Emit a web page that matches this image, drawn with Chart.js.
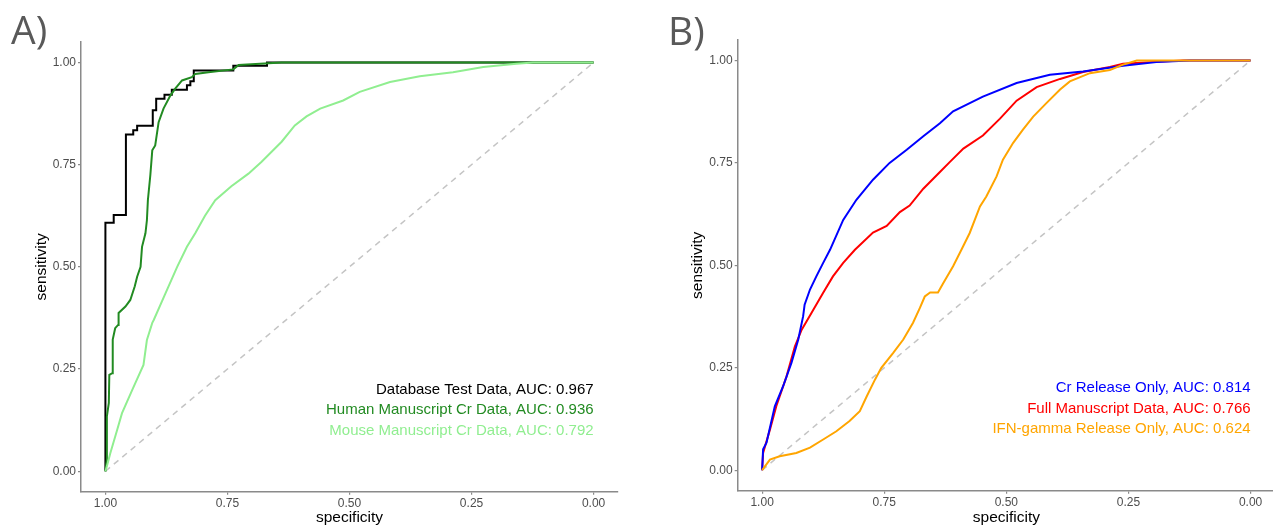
<!DOCTYPE html>
<html>
<head>
<meta charset="utf-8">
<script src="https://cdn.jsdelivr.net/npm/chart.js@4.4.1/dist/chart.umd.min.js"></script>
<style>
  html, body { margin: 0; padding: 0; background: #fff; overflow: hidden; }
  #page { position: relative; width: 1273px; height: 527px; overflow: hidden; }
  .panel { position: absolute; top: 0; }
  .tag { position: absolute; font-family: 'Open Sans', sans-serif; font-size: 39px; color: #595959; line-height: 1; }
</style>
</head>
<body>
<div id="page">
  <canvas id="roc-a" class="panel" width="640" height="527" style="left:0"></canvas>
  <canvas id="roc-b" class="panel" width="640" height="527" style="left:640px"></canvas>
  <div class="tag" style="left:11px; top:9px">A)</div>
  <div class="tag" style="left:668px; top:10px">B)</div>
</div>
<script>
const specTicks = [0, 0.25, 0.5, 0.75, 1];
const sensTicks = [0, 0.25, 0.5, 0.75, 1];
const legendY = [0.2, 0.15, 0.1];
const chanceLine = [[1, 0], [0, 1]];

// Panel A: [specificity, sensitivity]
const dbTestRoc = [
    [1, 0], [1, 0.608], [0.983, 0.608], [0.983, 0.627], [0.958, 0.627], [0.958, 0.824],
    [0.943, 0.824], [0.943, 0.834], [0.935, 0.834], [0.935, 0.845], [0.903, 0.845],
    [0.903, 0.883], [0.896, 0.883], [0.896, 0.911], [0.879, 0.911], [0.879, 0.921],
    [0.864, 0.921], [0.864, 0.933], [0.833, 0.933], [0.833, 0.944], [0.826, 0.944],
    [0.826, 0.954], [0.819, 0.954], [0.819, 0.980], [0.738, 0.980], [0.738, 0.992],
    [0.669, 0.992], [0.669, 1], [0, 1]
];
const humanCrRoc = [
    [1, 0], [0.997, 0.029], [0.997, 0.134], [0.993, 0.167], [0.992, 0.236], [0.986, 0.240],
    [0.985, 0.322], [0.980, 0.350], [0.974, 0.358], [0.973, 0.387], [0.959, 0.403],
    [0.949, 0.419], [0.940, 0.452], [0.935, 0.476], [0.928, 0.500], [0.925, 0.549],
    [0.918, 0.582], [0.915, 0.614], [0.913, 0.663], [0.908, 0.724], [0.904, 0.785],
    [0.898, 0.797], [0.891, 0.854], [0.881, 0.887], [0.867, 0.919], [0.857, 0.936],
    [0.843, 0.956], [0.823, 0.964], [0.816, 0.972], [0.789, 0.976], [0.738, 0.983],
    [0.727, 0.994], [0.639, 1], [0, 1]
];
const mouseCrRoc = [
    [1, 0], [0.997, 0.012], [0.990, 0.044], [0.976, 0.101], [0.966, 0.142], [0.945, 0.199],
    [0.922, 0.260], [0.915, 0.321], [0.904, 0.363], [0.901, 0.370], [0.877, 0.435],
    [0.853, 0.500], [0.833, 0.549], [0.816, 0.582], [0.796, 0.625], [0.775, 0.663],
    [0.742, 0.697], [0.707, 0.728], [0.680, 0.757], [0.659, 0.782], [0.639, 0.806],
    [0.612, 0.846], [0.588, 0.868], [0.560, 0.887], [0.513, 0.907], [0.479, 0.928],
    [0.417, 0.952], [0.356, 0.966], [0.288, 0.976], [0.226, 0.989], [0.158, 0.997],
    [0.124, 1], [0, 1]
];
const panelANames = ['Database Test Data', 'Human Manuscript Cr Data', 'Mouse Manuscript Cr Data'];
const panelAAuc = [0.967, 0.936, 0.792];
const panelAColors = ['#000000', '#228B22', '#90EE90'];
const panelAStack = [2, 1, 0];   // lower draws on top

// Panel B
const crOnlyRoc = [
    [1, 0], [0.998, 0.051], [0.991, 0.067], [0.974, 0.156], [0.957, 0.205], [0.940, 0.262],
    [0.926, 0.319], [0.916, 0.376], [0.913, 0.404], [0.902, 0.441], [0.889, 0.473],
    [0.875, 0.506], [0.861, 0.538], [0.834, 0.611], [0.807, 0.660], [0.773, 0.709],
    [0.739, 0.750], [0.704, 0.782], [0.670, 0.815], [0.636, 0.847], [0.609, 0.876],
    [0.548, 0.912], [0.479, 0.945], [0.411, 0.965], [0.343, 0.973], [0.261, 0.987],
    [0.193, 0.996], [0.124, 1], [0, 1]
];
const fullRoc = [
    [1, 0], [0.998, 0.042], [0.984, 0.099], [0.971, 0.156], [0.950, 0.229], [0.933, 0.302],
    [0.919, 0.343], [0.899, 0.384], [0.875, 0.433], [0.855, 0.473], [0.834, 0.506],
    [0.810, 0.538], [0.773, 0.580], [0.745, 0.596], [0.718, 0.630], [0.698, 0.646],
    [0.670, 0.687], [0.636, 0.728], [0.616, 0.752], [0.588, 0.785], [0.548, 0.817],
    [0.513, 0.858], [0.479, 0.902], [0.438, 0.935], [0.390, 0.955], [0.343, 0.972],
    [0.288, 0.984], [0.261, 0.992], [0.206, 0.996], [0.138, 1], [0, 1]
];
const ifnOnlyRoc = [
    [1, 0], [0.984, 0.026], [0.964, 0.034], [0.930, 0.042], [0.902, 0.055], [0.875, 0.075],
    [0.848, 0.095], [0.821, 0.120], [0.800, 0.144], [0.786, 0.180], [0.769, 0.221],
    [0.756, 0.250], [0.732, 0.286], [0.711, 0.319], [0.691, 0.360], [0.677, 0.396],
    [0.667, 0.424], [0.656, 0.434], [0.640, 0.434], [0.629, 0.457], [0.609, 0.498],
    [0.592, 0.538], [0.575, 0.579], [0.554, 0.644], [0.541, 0.668], [0.520, 0.717],
    [0.507, 0.758], [0.486, 0.799], [0.466, 0.831], [0.445, 0.863], [0.418, 0.896],
    [0.390, 0.929], [0.370, 0.949], [0.329, 0.969], [0.288, 0.977], [0.261, 0.990],
    [0.233, 1], [0, 1]
];
const panelBNames = ['Cr Release Only', 'Full Manuscript Data', 'IFN-gamma Release Only'];
const panelBAuc = [0.814, 0.766, 0.624];
const panelBColors = ['#0000FF', '#FF0000', '#FFA500'];
const panelBStack = [1, 2, 0];

const FONT = '"Liberation Sans", Arial, sans-serif';
const AXIS_GREY = '#8a8a8a';

// AUC text block, right aligned at specificity 0
const aucLabels = {
    id: 'aucLabels',
    afterDatasetsDraw(chart, args, opts) {
        const { ctx, scales: { x, y } } = chart;
        ctx.save();
        ctx.font = '15px ' + FONT;
        ctx.textAlign = 'right';
        ctx.textBaseline = 'middle';
        opts.names.forEach((name, i) => {
            ctx.fillStyle = opts.colors[i];
            ctx.fillText(name + ', AUC: ' + opts.auc[i].toFixed(3),
                x.getPixelForValue(0), y.getPixelForValue(legendY[i]));
        });
        ctx.restore();
    }
};

function toPoints(roc) {
    return roc.map(p => ({ x: p[0], y: p[1] }));
}

function axis(ticks, title, titlePad, fit) {
    return {
        type: 'linear',
        min: -0.05,
        max: 1.05,
        afterBuildTicks: s => { s.ticks = ticks.map(v => ({ value: v })); },
        afterFit: fit,
        border: { display: true, color: AXIS_GREY, width: 1.5 },
        grid: { drawOnChartArea: false, drawTicks: true, tickLength: 3, color: AXIS_GREY, lineWidth: 1.2 },
        ticks: {
            padding: 2,
            maxRotation: 0,
            color: '#4D4D4D',
            font: { family: FONT, size: 12 },
            callback: v => v.toFixed(2)
        },
        title: { display: true, text: title, color: '#000', padding: titlePad, font: { family: FONT, size: 15.5 } }
    };
}

function createRocChart(canvasId, curves, names, auc, colors, stack, layout) {
    const ctx = document.getElementById(canvasId).getContext('2d');
    const datasets = curves.map((roc, i) => ({
        data: toPoints(roc),
        borderColor: colors[i],
        borderWidth: 2,
        pointRadius: 0,
        tension: 0,
        order: stack[i]
    }));
    datasets.push({
        data: toPoints(chanceLine),
        borderColor: '#C4C4C4',
        borderWidth: 1.5,
        borderDash: [6, 5],
        pointRadius: 0,
        order: 10
    });

    const xAxis = axis(specTicks, 'specificity', { top: 0, bottom: 0 }, s => { s.height = layout.xHeight; });
    xAxis.reverse = true;
    const yAxis = axis(sensTicks, 'sensitivity', { top: layout.yTitlePad, bottom: 0 }, s => { s.width = layout.yWidth; });

    return new Chart(ctx, {
        type: 'line',
        data: { datasets },
        options: {
            responsive: false,
            animation: false,
            layout: { padding: { left: 0, top: layout.top, right: layout.right, bottom: 0 } },
            scales: { x: xAxis, y: yAxis },
            plugins: {
                legend: { display: false },
                tooltip: { enabled: false },
                aucLabels: { names, auc, colors }
            }
        },
        plugins: [aucLabels]
    });
}

createRocChart('roc-a', [dbTestRoc, humanCrRoc, mouseCrRoc], panelANames, panelAAuc, panelAColors, panelAStack,
    { yWidth: 81, xHeight: 35.3, top: 42, right: 22, yTitlePad: 32.7 });
createRocChart('roc-b', [crOnlyRoc, fullRoc, ifnOnlyRoc], panelBNames, panelBAuc, panelBColors, panelBStack,
    { yWidth: 97.7, xHeight: 36.3, top: 40, right: 5, yTitlePad: 48.7 });
</script>
</body>
</html>
